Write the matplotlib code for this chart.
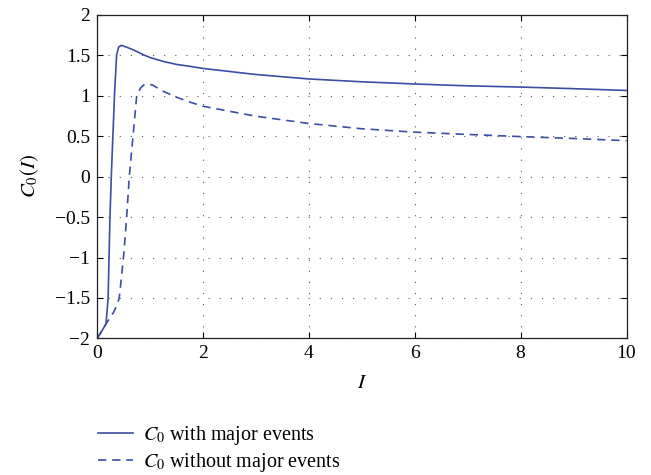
import matplotlib
matplotlib.use("Agg")
import matplotlib.pyplot as plt

# C0(I) with major events
i_major = [0.0, 0.08, 0.17, 0.21, 0.227, 0.245, 0.27, 0.30, 0.33, 0.37, 0.41,
           0.46, 0.55, 0.70, 0.89, 1.0, 1.26, 1.5, 1.76, 2.0, 3.0, 4.0, 5.0,
           6.0, 7.0, 8.0, 9.0, 10.0]
c_major = [-2.0, -1.92, -1.82, -1.5, -1.0, -0.5, 0.0, 0.5, 1.0, 1.5, 1.6,
           1.62, 1.60, 1.56, 1.50, 1.47, 1.42, 1.385, 1.36, 1.335, 1.26, 1.205,
           1.17, 1.143, 1.12, 1.105, 1.085, 1.063]

# C0(I) without major events
i_minor = [0.0, 0.08, 0.17, 0.25, 0.31, 0.37, 0.42, 0.50, 0.56, 0.61, 0.68,
           0.75, 0.82, 0.88, 0.95, 1.05, 1.1, 1.26, 1.5, 1.75, 2.0, 3.0, 4.0,
           5.0, 6.0, 7.0, 8.0, 9.0, 10.0]
c_minor = [-2.0, -1.92, -1.82, -1.74, -1.68, -1.6, -1.5, -1.0, -0.5, 0.0, 0.5,
           1.0, 1.09, 1.13, 1.143, 1.13, 1.11, 1.05, 0.98, 0.92, 0.868, 0.745,
           0.655, 0.59, 0.548, 0.52, 0.493, 0.47, 0.443]

x_ticks = [0, 2, 4, 6, 8, 10]
y_ticks = [-2, -1.5, -1, -0.5, 0, 0.5, 1, 1.5, 2]
y_tick_labels = ["\u22122", "\u22121.5", "\u22121", "\u22120.5", "0", "0.5", "1", "1.5", "2"]
legend_labels = [r"$C_0$ with major events", r"$C_0$ without major events"]

plt.rcParams["font.family"] = ["Liberation Serif", "DejaVu Serif"]
plt.rcParams["mathtext.fontset"] = "stix"
plt.rcParams["font.size"] = 14

color = "#3a4ea6"

fig = plt.figure(figsize=(6.51, 4.75), dpi=100)
ax = fig.add_axes([0.149, 0.2874, 0.8134, 0.6819])

l1, = ax.plot(i_major, c_major, color=color, lw=1.2, label=legend_labels[0])
l2, = ax.plot(i_minor, c_minor, color=color, lw=1.2, ls=(0, (5, 3.5)),
              label=legend_labels[1])

ax.set_xlim(0, 10)
ax.set_ylim(-2, 2)
ax.set_xticks(x_ticks)
ax.set_xticklabels([str(t) for t in x_ticks])
ax.set_yticks(y_ticks)
ax.set_yticklabels(y_tick_labels)
ax.tick_params(direction="in", top=True, right=True, length=4, width=0.8,
               labelsize=14, pad=5)
ax.grid(True, ls=(0, (1, 9)), color="#555555", lw=0.8)
for s in ax.spines.values():
    s.set_linewidth(0.9)
    s.set_color("#222222")

ax.set_xlabel(r"$I$", fontsize=15, labelpad=8)
ax.set_ylabel(r"$C_0(I)$", fontsize=15, labelpad=10)

fig.legend(handles=[l1, l2], loc="upper left", bbox_to_anchor=(0.138, 0.124),
           frameon=False, handlelength=1.75, handletextpad=0.5, labelspacing=0.2,
           fontsize=14.5, borderaxespad=0.0)

fig.savefig("out.png", dpi=100)
